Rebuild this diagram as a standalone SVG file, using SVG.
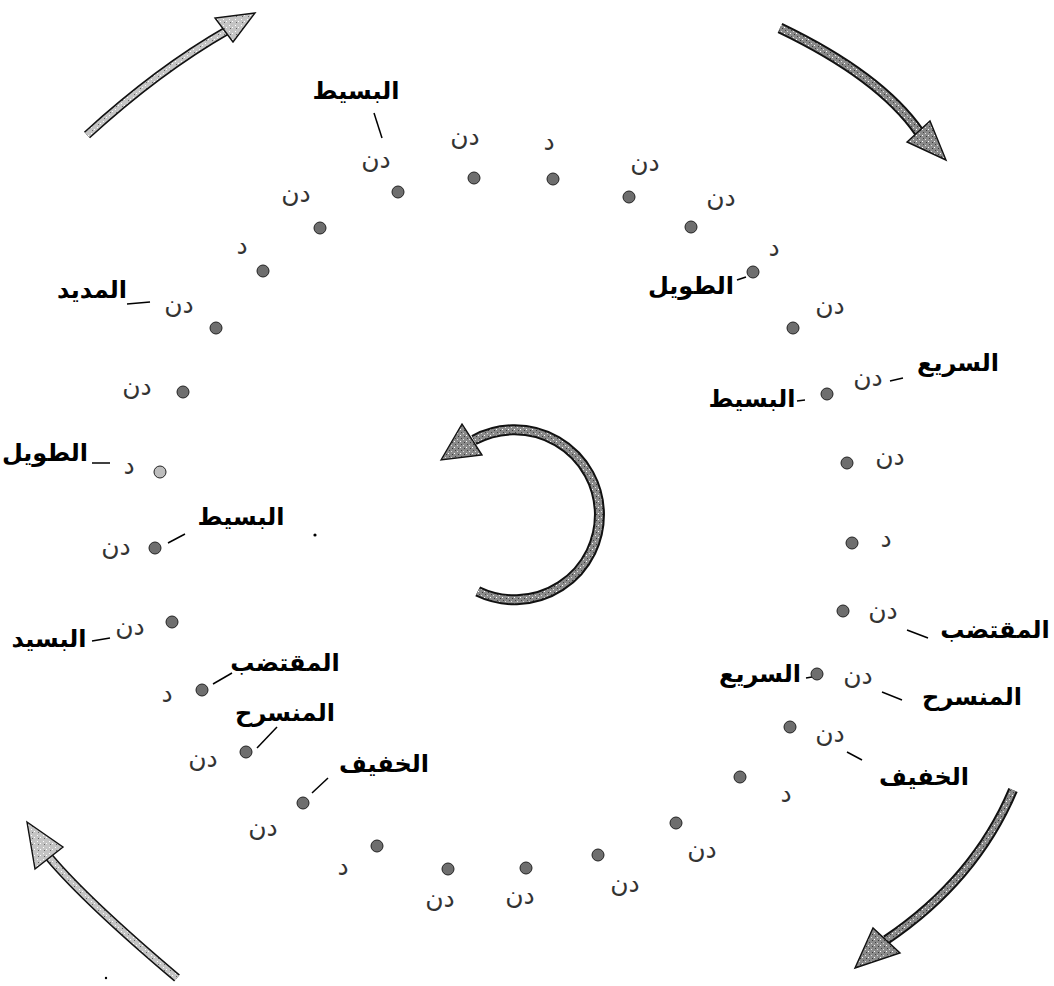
<svg xmlns="http://www.w3.org/2000/svg" width="1054" height="986" viewBox="0 0 1054 986">
<defs>
<pattern id="stip" width="6" height="6" patternUnits="userSpaceOnUse">
<rect width="6" height="6" fill="#8a8a8a"/>
<rect x="1" y="1" width="1" height="1" fill="#e0e0e0"/>
<rect x="4" y="3" width="1" height="1" fill="#ffffff"/>
<rect x="2" y="4" width="1" height="1" fill="#3a3a3a"/>
<rect x="5" y="0" width="1" height="1" fill="#444"/>
</pattern>
<pattern id="stipL" width="6" height="6" patternUnits="userSpaceOnUse">
<rect width="6" height="6" fill="#c4c4c4"/>
<rect x="1" y="1" width="1" height="1" fill="#fff"/>
<rect x="4" y="3" width="1" height="1" fill="#fff"/>
<rect x="2" y="4" width="1" height="1" fill="#666"/>
</pattern>
</defs>
<style>
.dot{fill:#6e6e6e;stroke:#222;stroke-width:1}
.sm{font-family:"DejaVu Sans",sans-serif;font-size:25px;fill:#333;text-anchor:middle;dominant-baseline:central}
.lb{font-family:"DejaVu Sans",sans-serif;font-size:24px;font-weight:bold;fill:#000;text-anchor:middle;dominant-baseline:central}
.ld{stroke:#000;stroke-width:1.5;fill:none}
.shO{fill:none;stroke:#111;stroke-linecap:butt}
.hd{stroke:#111;stroke-width:1.4;stroke-linejoin:miter}
</style>
<rect width="1054" height="986" fill="#fff"/>

<g id="connectors">
<g id="arrow-tl">
<path class="shO" d="M87,135 Q158,70 228,30" stroke-width="9"/>
<path d="M87,135 Q158,70 228,30" fill="none" stroke="url(#stipL)" stroke-width="6"/>
<polygon class="hd" points="255,13 215,18 233,42" fill="url(#stipL)"/>
</g>
<g id="arrow-tr">
<path class="shO" d="M780,28 Q880,76 919,132" stroke-width="11"/>
<path d="M780,28 Q880,76 919,132" fill="none" stroke="url(#stip)" stroke-width="7"/>
<polygon class="hd" points="946,160 907,142 930,121" fill="url(#stip)"/>
</g>
<g id="arrow-bl">
<path class="shO" d="M177,978 Q87,902 49,857" stroke-width="9"/>
<path d="M177,978 Q87,902 49,857" fill="none" stroke="url(#stipL)" stroke-width="6"/>
<polygon class="hd" points="27,822 63,847 35,869" fill="url(#stipL)"/>
</g>
<g id="arrow-br">
<path class="shO" d="M1013,790 Q975,880 886,940" stroke-width="10"/>
<path d="M1013,790 Q975,880 886,940" fill="none" stroke="url(#stip)" stroke-width="6"/>
<polygon class="hd" points="855,968 873,928 900,953" fill="url(#stip)"/>
</g>
<g id="arrow-center">
<path class="shO" d="M477.7,591.4 A85,85 0 1 0 474,440" stroke-width="11"/>
<path d="M477.7,591.4 A85,85 0 1 0 474,440" fill="none" stroke="url(#stip)" stroke-width="7"/>
<polygon class="hd" points="441,460 462,424 482,455" fill="url(#stip)"/>
</g>
<g id="leaders">
<line class="ld" x1="374" y1="113" x2="382" y2="138"/>
<line class="ld" x1="737" y1="280" x2="746" y2="277"/>
<line class="ld" x1="890" y1="381" x2="903" y2="378"/>
<line class="ld" x1="797" y1="401" x2="805" y2="400"/>
<line class="ld" x1="907" y1="630" x2="928" y2="638"/>
<line class="ld" x1="806" y1="678" x2="812" y2="677"/>
<line class="ld" x1="882" y1="692" x2="902" y2="700"/>
<line class="ld" x1="847" y1="752" x2="862" y2="760"/>
<line class="ld" x1="312" y1="793" x2="328" y2="778"/>
<line class="ld" x1="257" y1="748" x2="277" y2="727"/>
<line class="ld" x1="213" y1="684" x2="232" y2="673"/>
<line class="ld" x1="92" y1="641" x2="110" y2="638"/>
<line class="ld" x1="168" y1="543" x2="185" y2="534"/>
<line class="ld" x1="92" y1="463" x2="110" y2="463"/>
<line class="ld" x1="127" y1="304" x2="150" y2="302"/>
</g>
</g>

<g id="dots">
<circle class="dot" cx="398" cy="192" r="6"/>
<circle class="dot" cx="474" cy="178" r="6"/>
<circle class="dot" cx="553" cy="179" r="6"/>
<circle class="dot" cx="629" cy="197" r="6"/>
<circle class="dot" cx="691" cy="227" r="6"/>
<circle class="dot" cx="753" cy="272" r="6"/>
<circle class="dot" cx="793" cy="328" r="6"/>
<circle class="dot" cx="827" cy="394" r="6"/>
<circle class="dot" cx="847" cy="463" r="6"/>
<circle class="dot" cx="852" cy="543" r="6"/>
<circle class="dot" cx="843" cy="611" r="6"/>
<circle class="dot" cx="817" cy="674" r="6"/>
<circle class="dot" cx="790" cy="727" r="6"/>
<circle class="dot" cx="740" cy="777" r="6"/>
<circle class="dot" cx="676" cy="823" r="6"/>
<circle class="dot" cx="598" cy="855" r="6"/>
<circle class="dot" cx="526" cy="868" r="6"/>
<circle class="dot" cx="448" cy="869" r="6"/>
<circle class="dot" cx="377" cy="846" r="6"/>
<circle class="dot" cx="303" cy="803" r="6"/>
<circle class="dot" cx="246" cy="752" r="6"/>
<circle class="dot" cx="202" cy="690" r="6"/>
<circle class="dot" cx="172" cy="622" r="6"/>
<circle class="dot" cx="155" cy="548" r="6"/>
<circle class="dot" cx="160" cy="472" r="6" style="fill:#bdbdbd"/>
<circle class="dot" cx="183" cy="392" r="6"/>
<circle class="dot" cx="216" cy="328" r="6"/>
<circle class="dot" cx="263" cy="271" r="6"/>
<circle class="dot" cx="320" cy="228" r="6"/>
<circle cx="315" cy="535" r="1.6" fill="#000"/>
<circle cx="106" cy="978" r="1.2" fill="#000"/>
</g>

<g id="syllables">
<text class="sm" x="376" y="159">دن</text>
<text class="sm" x="465" y="136">دن</text>
<text class="sm" x="549" y="141">د</text>
<text class="sm" x="645" y="162">دن</text>
<text class="sm" x="721" y="197">دن</text>
<text class="sm" x="774" y="247">د</text>
<text class="sm" x="830" y="305">دن</text>
<text class="sm" x="868" y="377">دن</text>
<text class="sm" x="890" y="456">دن</text>
<text class="sm" x="886" y="538">د</text>
<text class="sm" x="883" y="610">دن</text>
<text class="sm" x="858" y="675">دن</text>
<text class="sm" x="830" y="733">دن</text>
<text class="sm" x="786" y="793">د</text>
<text class="sm" x="702" y="849">دن</text>
<text class="sm" x="625" y="883">دن</text>
<text class="sm" x="520" y="895">دن</text>
<text class="sm" x="440" y="898">دن</text>
<text class="sm" x="343" y="866">د</text>
<text class="sm" x="263" y="827">دن</text>
<text class="sm" x="203" y="758">دن</text>
<text class="sm" x="167" y="693">د</text>
<text class="sm" x="130" y="626">دن</text>
<text class="sm" x="116" y="546">دن</text>
<text class="sm" x="129" y="465">د</text>
<text class="sm" x="137" y="386">دن</text>
<text class="sm" x="179" y="304">دن</text>
<text class="sm" x="242" y="245">د</text>
<text class="sm" x="296" y="193">دن</text>
</g>

<g id="label-top-basit"><text class="lb" x="356" y="91">البسيط</text></g>
<g id="label-tawil-r"><text class="lb" x="691" y="286">الطويل</text></g>
<g id="label-sari-r"><text class="lb" x="958" y="363">السريع</text></g>
<g id="label-basit-r"><text class="lb" x="752" y="399">البسيط</text></g>
<g id="label-muqtadab-r"><text class="lb" x="995" y="630">المقتضب</text></g>
<g id="label-sari-r2"><text class="lb" x="760" y="674">السريع</text></g>
<g id="label-munsarih-r"><text class="lb" x="972" y="697">المنسرح</text></g>
<g id="label-khafif-r"><text class="lb" x="924" y="777">الخفيف</text></g>
<g id="label-khafif-l"><text class="lb" x="384" y="764">الخفيف</text></g>
<g id="label-munsarih-l"><text class="lb" x="285" y="713">المنسرح</text></g>
<g id="label-muqtadab-l"><text class="lb" x="285" y="663">المقتضب</text></g>
<g id="label-basid-l"><text class="lb" x="49" y="639">البسيد</text></g>
<g id="label-basit-l"><text class="lb" x="241" y="517">البسيط</text></g>
<g id="label-tawil-l"><text class="lb" x="45" y="453">الطويل</text></g>
<g id="label-madid-l"><text class="lb" x="92" y="290">المديد</text></g>
</svg>
